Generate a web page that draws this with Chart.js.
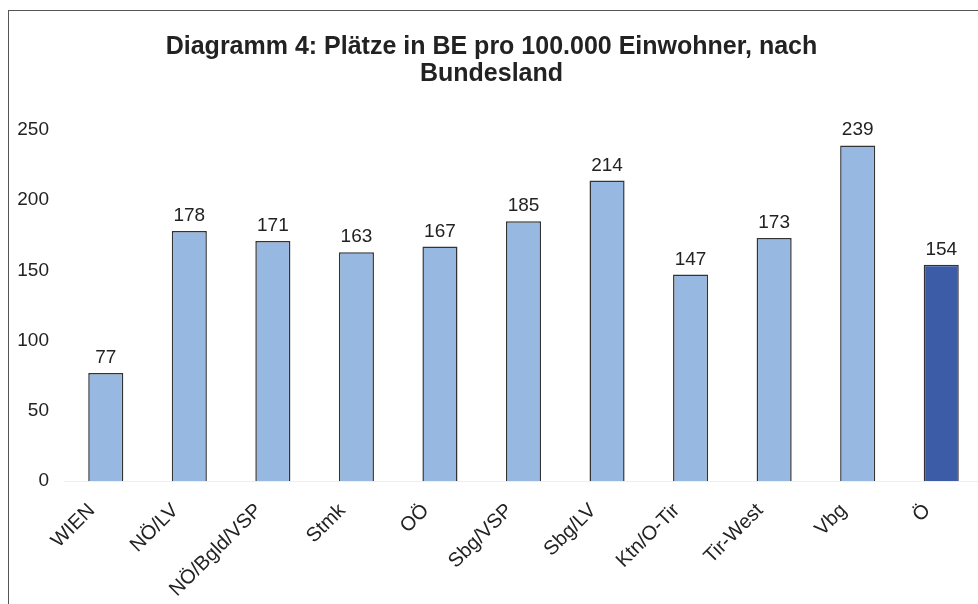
<!DOCTYPE html>
<html>
<head>
<meta charset="utf-8">
<script src="https://cdn.jsdelivr.net/npm/chart.js@4"></script>
<style>
  html, body { margin: 0; padding: 0; background: #fff; overflow: hidden; }
  #wrap { position: relative; width: 978px; height: 604px; overflow: hidden; }
  #frame { position: absolute; left: 8px; top: 10px; width: 1200px; height: 800px;
           border-left: 1px solid #555; border-top: 1px solid #555; pointer-events: none; }
  #box { position: absolute; left: 0; top: 0; width: 1004px; height: 604px; }
</style>
</head>
<body>
<div id="wrap">
  <div id="box"><canvas id="chart" width="1004" height="604"></canvas></div>
  <div id="frame"></div>
</div>
<script>
const categories = ['WIEN', 'NÖ/LV', 'NÖ/Bgld/VSP', 'Stmk', 'OÖ', 'Sbg/VSP', 'Sbg/LV', 'Ktn/O-Tir', 'Tir-West', 'Vbg', 'Ö'];
const values = [77, 178, 171, 163, 167, 185, 214, 147, 173, 239, 154];
const yTicks = [0, 50, 100, 150, 200, 250];
const titleLines = ['Diagramm 4: Plätze in BE pro 100.000 Einwohner, nach', 'Bundesland'];

const fontFamily = '"Liberation Sans", Arial, sans-serif';
const barColors = categories.map(c => c === 'Ö' ? '#3C5CA8' : '#97B8E0');

// Werte über den Balken
const valueLabels = {
  id: 'valueLabels',
  afterDatasetsDraw(chart) {
    const ctx = chart.ctx;
    const meta = chart.getDatasetMeta(0);
    ctx.save();
    ctx.font = '19px ' + fontFamily;
    ctx.fillStyle = '#222';
    ctx.textAlign = 'center';
    ctx.textBaseline = 'alphabetic';
    meta.data.forEach((bar, i) => {
      ctx.fillText(values[i], bar.x, bar.y - 10);
    });
    ctx.restore();
  }
};

new Chart(document.getElementById('chart'), {
  type: 'bar',
  data: {
    labels: categories,
    datasets: [{
      data: values,
      backgroundColor: barColors,
      borderColor: '#333',
      borderWidth: 1.5,
      barPercentage: 0.42,
      categoryPercentage: 1
    }]
  },
  options: {
    responsive: false,
    animation: false,
    layout: { padding: { left: 0, right: 21, top: 0, bottom: 0 } },
    plugins: {
      legend: { display: false },
      tooltip: { enabled: false },
      title: {
        display: true,
        text: titleLines,
        color: '#222',
        font: { family: fontFamily, size: 25, weight: 'bold', lineHeight: 1.08 },
        padding: { top: 34, bottom: 42 }
      }
    },
    scales: {
      x: {
        grid: { display: false, drawTicks: false },
        border: { display: true, color: '#eee' },
        ticks: {
          color: '#222',
          font: { family: fontFamily, size: 20 },
          maxRotation: 45,
          minRotation: 45,
          padding: 18,
          labelOffset: -14
        },
        afterFit: (scale) => { scale.height = 123; }
      },
      y: {
        min: 0,
        max: 250,
        afterBuildTicks: (scale) => { scale.ticks = yTicks.map(v => ({ value: v })); },
        grid: { display: false, drawTicks: false },
        border: { display: false },
        ticks: {
          color: '#222',
          font: { family: fontFamily, size: 19 },
          padding: 15
        },
        afterFit: (scale) => { scale.width = 64; }
      }
    }
  },
  plugins: [valueLabels]
});
</script>
</body>
</html>
